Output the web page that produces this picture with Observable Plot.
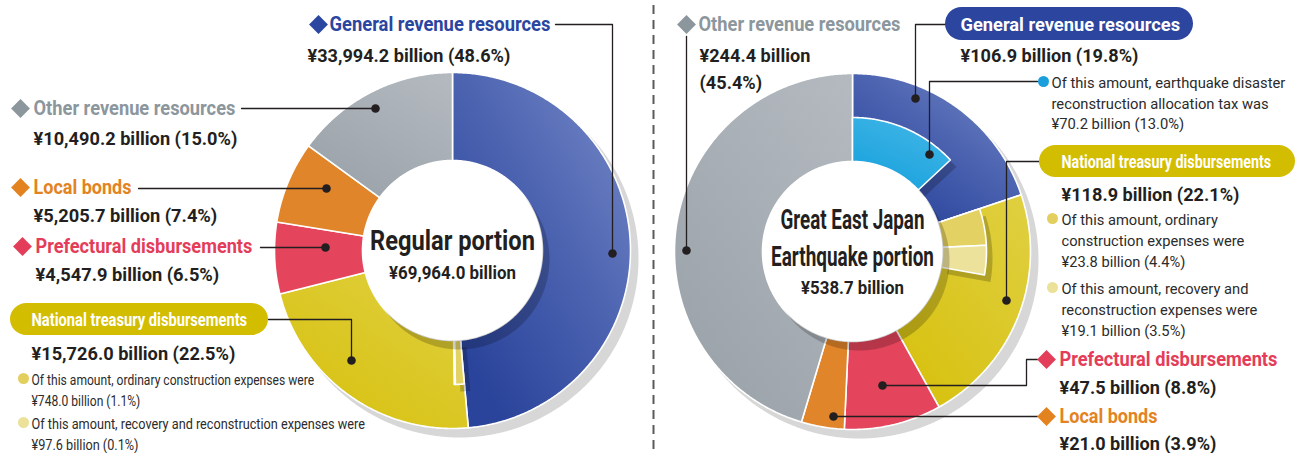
<!DOCTYPE html>
<html>
<head>
<meta charset="utf-8">
<script src="https://cdn.jsdelivr.net/npm/d3@7"></script>
<script src="https://cdn.jsdelivr.net/npm/@observablehq/plot@0.6"></script>
<style>
html, body { margin: 0; padding: 0; background: #fff; }
#chart svg { display: block; }
</style>
</head>
<body>
<div id="chart"></div>
<script>
// ---------------- DATA ----------------
const categories = ["General revenue resources", "National treasury disbursements", "Prefectural disbursements", "Local bonds", "Other revenue resources"];

const regularValues = [33994.2, 15726.0, 4547.9, 5205.7, 10490.2];
const regularShares = [48.6, 22.5, 6.5, 7.4, 15.0];
const regularTotal = 69964.0;
const regularSubParents = ["National treasury disbursements", "National treasury disbursements"];
const regularSubKeys = ["ordinary", "recovery"];
const regularSubLabels = ["Of this amount, ordinary construction expenses were", "Of this amount, recovery and reconstruction expenses were"];
const regularSubValues = [748.0, 97.6];
const regularSubShares = [1.1, 0.1];

const quakeValues = [106.9, 118.9, 47.5, 21.0, 244.4];
const quakeShares = [19.8, 22.1, 8.8, 3.9, 45.4];
const quakeTotal = 538.7;
const quakeSubParents = ["General revenue resources", "National treasury disbursements", "National treasury disbursements"];
const quakeSubKeys = ["allocationTax", "ordinary", "recovery"];
const quakeSubLabels = ["Of this amount, earthquake disaster\nreconstruction allocation tax was", "Of this amount, ordinary\nconstruction expenses were", "Of this amount, recovery and\nreconstruction expenses were"];
const quakeSubValues = [70.2, 23.8, 19.1];
const quakeSubShares = [13.0, 4.4, 3.5];

const chartTitles = ["Regular portion", "Great East Japan\nEarthquake portion"];

// ---------------- STYLE / LAYOUT ----------------
const W = 1306, H = 453;
const FONT = "Roboto, 'Liberation Sans', sans-serif";
const INK = "#231f20";
const ringOuter = 178, ringInner = 90, subOuter = 134;

const catStyle = {
  "General revenue resources": {text: "#2b46a0", fill: "url(#gBlue)", pill: "#2c459e"},
  "National treasury disbursements": {text: "#fff", fill: "url(#gYellow)", pill: "#d3bd00"},
  "Prefectural disbursements": {text: "#e43d59", fill: "#e4445c"},
  "Local bonds": {text: "#e3831f", fill: "#e1852a"},
  "Other revenue resources": {text: "#8c969d", fill: "url(#gGrey)"}
};
const subStyle = {
  allocationTax: {fill: "url(#gCyan)", bullet: "#1a9fdc"},
  ordinary: {fill: "#e4d163", bullet: "#e3cf5e"},
  recovery: {fill: "#ece29c", bullet: "#ebe199"}
};

// positions [x, y] and fitted text widths (w) of the annotations
const layout = [
  {
    values: regularValues, shares: regularShares, total: regularTotal,
    subParents: regularSubParents, subKeys: regularSubKeys, subLabels: regularSubLabels, subValues: regularSubValues, subShares: regularSubShares,
    title: chartTitles[0], cx: 452, cy: 250, titleYs: [241], titleWs: [165], totalY: 273, totalW: 127,
    labels: {
      "General revenue resources": {diamond: [318, 24], label: [329, 24], labelW: 221, value: [307, 53], valueW: 203, leader: [[555, 24], [612, 24], [612, 253]]},
      "National treasury disbursements": {pill: [10, 268, 303, 335], label: [31, 319], labelW: 216, value: [31, 351], valueW: 204, leader: [[268, 319], [351, 319], [351, 360]]},
      "Prefectural disbursements": {diamond: [22, 246], label: [35, 246], labelW: 217, value: [35, 272], valueW: 184, leader: [[260, 247], [325, 247]]},
      "Local bonds": {diamond: [20, 187], label: [33, 187], labelW: 98, value: [33, 213], valueW: 184, leader: [[138, 188], [326, 188]]},
      "Other revenue resources": {diamond: [20, 108], label: [33, 108], labelW: 202, value: [33, 136], valueW: 204, leader: [[241, 108], [375, 108]]}
    },
    subs: {
      ordinary: {bullet: [23, 378], text: [31, 388.5], w: 283},
      recovery: {bullet: [23, 422], text: [31, 432.5], w: 334}
    }
  },
  {
    values: quakeValues, shares: quakeShares, total: quakeTotal,
    subParents: quakeSubParents, subKeys: quakeSubKeys, subLabels: quakeSubLabels, subValues: quakeSubValues, subShares: quakeSubShares,
    title: chartTitles[1], cx: 852, cy: 251, titleYs: [220, 257], titleWs: [144, 163], totalY: 288, totalW: 103,
    labels: {
      "General revenue resources": {pill: [945, 1193, 7, 40], label: [960, 24], labelW: 220, value: [960, 53], valueW: 178, leader: [[945, 24], [915, 24], [915, 98]]},
      "National treasury disbursements": {pill: [1039, 1295, 145, 177], label: [1061, 161], labelW: 210, value: [1061, 192], valueW: 178, leader: [[1039, 161], [1006, 161], [1006, 300]]},
      "Prefectural disbursements": {diamond: [1046, 359], label: [1059, 359], labelW: 218, value: [1059, 385], valueW: 157, leader: [[1037, 359], [1026, 359], [1026, 385], [882, 385]]},
      "Local bonds": {diamond: [1046, 416], label: [1059, 416], labelW: 98, value: [1059, 441], valueW: 157, leader: [[1037, 416], [833, 416]]},
      "Other revenue resources": {diamond: [686, 24], label: [698, 24], labelW: 202, value: [699, 66.5], valueW: 111, valueBreak: true, leader: [[686, 36], [686, 250]]}
    },
    subs: {
      allocationTax: {bullet: [1043, 81], text: [1051, 101.5], w: 234, leader: [[1037, 81], [929, 81], [929, 154]]},
      ordinary: {bullet: [1052, 218], text: [1061, 239], w: 183},
      recovery: {bullet: [1052, 287], text: [1061, 308], w: 196}
    }
  }
];

// ---------------- DERIVED GEOMETRY ----------------
const fmt = d3.format(",.1f");
const money = v => `¥${fmt(v)} billion`;
const TAU = 2 * Math.PI;

function ringSlices(values) {
  const total = d3.sum(values);
  let acc = 0;
  return categories.map((cat, i) => {
    const a0 = acc / total * TAU; acc += values[i];
    return {cat, a0, a1: acc / total * TAU};
  });
}
function subSlices(slices, L) {
  const total = d3.sum(L.values);
  const used = {};
  return L.subKeys.map((key, i) => {
    const p = slices.find(s => s.cat === L.subParents[i]);
    const start = p.a0 + (used[p.cat] || 0);
    const span = L.subValues[i] / total * TAU;
    used[p.cat] = (used[p.cat] || 0) + span;
    return {key, a0: start, a1: start + span};
  });
}
function arcPolygon(id, fill, a0, a1, rIn, rOut, cx, cy, dx = 0, dy = 0) {
  const n = Math.max(2, Math.ceil((a1 - a0) / (Math.PI / 360)));
  const pts = [];
  for (let i = 0; i <= n; i++) { const a = a0 + (a1 - a0) * i / n; pts.push({id, fill, x: cx + dx + rOut * Math.sin(a), y: cy + dy - rOut * Math.cos(a)}); }
  for (let i = n; i >= 0; i--) { const a = a0 + (a1 - a0) * i / n; pts.push({id, fill, x: cx + dx + rIn * Math.sin(a), y: cy + dy - rIn * Math.cos(a)}); }
  return pts;
}
function disk(id, fill, rad, cx, cy) {
  return d3.range(0, 721).map(i => ({id, fill, x: cx + rad * Math.sin(i / 720 * TAU), y: cy - rad * Math.cos(i / 720 * TAU)}));
}

const shadowPts = [], slicePts = [], subShadowPts = [], subPts = [], holeShadowPts = [], holePts = [];
const leaders = [], leaderDots = [], pills = [], diamonds = [], bullets = [];
const labelTexts = [], pillTexts = [], valueTexts = [], subTexts = [], titleTexts = [], totalTexts = [];

layout.forEach((L, k) => {
  const slices = ringSlices(L.values);
  const subs = subSlices(slices, L);
  shadowPts.push(...disk(`sh${k}`, "#d7d7d7", ringOuter + 1, L.cx + 7, L.cy + 8));
  slices.forEach(s => slicePts.push(...arcPolygon(`s${k}${s.cat}`, catStyle[s.cat].fill, s.a0, s.a1, ringInner, ringOuter, L.cx, L.cy)));
  subs.forEach(s => subShadowPts.push(...arcPolygon(`ss${k}${s.key}`, "#000", s.a0, s.a1, ringInner, subOuter, L.cx, L.cy, 6, 7)));
  subs.forEach(s => subPts.push(...arcPolygon(`u${k}${s.key}`, subStyle[s.key].fill, s.a0, s.a1, ringInner, subOuter, L.cx, L.cy)));
  holeShadowPts.push(...disk(`hs${k}`, "#000", ringInner, L.cx + 7, L.cy + 9));
  holePts.push(...disk(`h${k}`, "#fff", ringInner, L.cx, L.cy));

  L.title.split("\n").forEach((line, j) => titleTexts.push({x: L.cx, y: L.titleYs[j], text: line, w: L.titleWs[j]}));
  totalTexts.push({x: L.cx, y: L.totalY, text: money(L.total), w: L.totalW});

  categories.forEach((cat, i) => {
    const P = L.labels[cat];
    const st = catStyle[cat];
    P.leader.forEach(([x, y]) => leaders.push({id: `l${k}${cat}`, x, y}));
    const end = P.leader[P.leader.length - 1];
    leaderDots.push({x: end[0], y: end[1]});
    if (P.pill) {
      pills.push({x1: P.pill[0], x2: P.pill[1], y1: P.pill[2], y2: P.pill[3], fill: st.pill});
      pillTexts.push({x: P.label[0], y: P.label[1], text: cat, w: P.labelW});
    } else {
      diamonds.push({x: P.diamond[0], y: P.diamond[1], fill: st.text});
      labelTexts.push({x: P.label[0], y: P.label[1], text: cat, fill: st.text, w: P.labelW});
    }
    const pct = `(${L.shares[i].toFixed(1)}%)`;
    valueTexts.push({x: P.value[0], y: P.value[1], text: P.valueBreak ? `${money(L.values[i])}\n${pct}` : `${money(L.values[i])} ${pct}`, w: P.valueW});
  });

  L.subKeys.forEach((key, i) => {
    const S = L.subs[key];
    bullets.push({x: S.bullet[0], y: S.bullet[1], fill: subStyle[key].bullet});
    subTexts.push({x: S.text[0], y: S.text[1], text: `${L.subLabels[i]}\n${money(L.subValues[i])} (${L.subShares[i].toFixed(1)}%)`, w: S.w});
    if (S.leader) {
      S.leader.forEach(([x, y]) => leaders.push({id: `sl${k}${key}`, x, y}));
      const end = S.leader[S.leader.length - 1];
      leaderDots.push({x: end[0], y: end[1]});
    }
  });
});

const poly = (data, opts = {}) => Plot.line(data, {x: "x", y: "y", z: "id", fill: "fill", stroke: "none", curve: "linear-closed", ...opts});
const textGroups = [labelTexts, pillTexts, valueTexts, subTexts, titleTexts, totalTexts];

const chart = Plot.plot({
  width: W, height: H, margin: 0,
  x: {domain: [0, W], range: [0, W], axis: null},
  y: {domain: [0, H], range: [0, H], axis: null},
  color: {type: "identity"},
  style: {fontFamily: FONT, background: "#fff", overflow: "visible"},
  marks: [
    poly(shadowPts),
    poly(slicePts, {stroke: "#fff", strokeWidth: 1.6, strokeLinejoin: "round"}),
    poly(subShadowPts, {fillOpacity: 0.2}),
    poly(subPts, {stroke: "#fff", strokeWidth: 1.6, strokeLinejoin: "round"}),
    poly(holeShadowPts, {fillOpacity: 0.2}),
    poly(holePts),
    Plot.ruleX([653], {y1: 5, y2: 453, stroke: "#5a5a5a", strokeWidth: 2, strokeDasharray: "9,6"}),
    Plot.line(leaders, {x: "x", y: "y", z: "id", stroke: INK, strokeWidth: 1.3}),
    Plot.dot(leaderDots, {x: "x", y: "y", r: 4.3, fill: INK, stroke: "none"}),
    Plot.rect(pills, {x1: "x1", x2: "x2", y1: "y1", y2: "y2", fill: "fill", rx: 16.5}),
    Plot.dot(diamonds, {x: "x", y: "y", symbol: "diamond2", r: 8.5, fill: "fill", stroke: "none"}),
    Plot.dot(bullets, {x: "x", y: "y", r: 5.5, fill: "fill", stroke: "none"}),
    Plot.text(labelTexts, {x: "x", y: "y", text: "text", fill: "fill", textAnchor: "start", fontSize: 19.5, fontWeight: "bold"}),
    Plot.text(pillTexts, {x: "x", y: "y", text: "text", fill: "#fff", textAnchor: "start", fontSize: 19, fontWeight: "bold"}),
    Plot.text(valueTexts, {x: "x", y: "y", text: "text", fill: INK, textAnchor: "start", fontSize: 19, fontWeight: "bold", lineHeight: 1.42}),
    Plot.text(subTexts, {x: "x", y: "y", text: "text", fill: "#2b2b2b", textAnchor: "start", fontSize: 15, lineHeight: 1.38}),
    Plot.text(titleTexts, {x: "x", y: "y", text: "text", fill: INK, textAnchor: "middle", fontSize: 28, fontWeight: "bold"}),
    Plot.text(totalTexts, {x: "x", y: "y", text: "text", fill: INK, textAnchor: "middle", fontSize: 18.5, fontWeight: "bold"})
  ]
});

// gradient definitions referenced by the slice fills
const NS = "http://www.w3.org/2000/svg";
const defs = document.createElementNS(NS, "defs");
const gradients = [
  ["gBlue", [0.95, 0.1, 0.25, 0.95], [["0", "#7084c4"], ["0.45", "#4d64b1"], ["1", "#2a449b"]]],
  ["gGrey", [0.9, 0, 0.2, 1], [["0", "#b3b9bf"], ["1", "#9aa2a9"]]],
  ["gYellow", [1, 0, 0.2, 1], [["0", "#e0d042"], ["1", "#d7c10f"]]],
  ["gCyan", [0.8, 0, 0.2, 1], [["0", "#43b7e7"], ["1", "#16a0dc"]]]
];
gradients.forEach(([id, [x1, y1, x2, y2], stops]) => {
  const g = document.createElementNS(NS, "linearGradient");
  g.setAttribute("id", id);
  g.setAttribute("x1", x1); g.setAttribute("y1", y1); g.setAttribute("x2", x2); g.setAttribute("y2", y2);
  stops.forEach(([o, c]) => { const s = document.createElementNS(NS, "stop"); s.setAttribute("offset", o); s.setAttribute("stop-color", c); g.appendChild(s); });
  defs.appendChild(g);
});
chart.insertBefore(defs, chart.firstChild);
document.getElementById("chart").appendChild(chart);

// condensed type: squeeze each text horizontally to the reference width
chart.querySelectorAll('g[aria-label="text"]').forEach((g, gi) => {
  const data = textGroups[gi];
  g.querySelectorAll("text").forEach((t, i) => {
    const d = data && data[i];
    if (!d || !d.w) return;
    const f = d.w / t.getBBox().width;
    const tr = t.getAttribute("transform");
    if (tr) t.setAttribute("transform", `${tr} scale(${f},1)`);
    else {
      const x = +t.getAttribute("x") || 0;
      t.setAttribute("transform", `translate(${x},0) scale(${f},1) translate(${-x},0)`);
    }
  });
});
</script>
</body>
</html>
